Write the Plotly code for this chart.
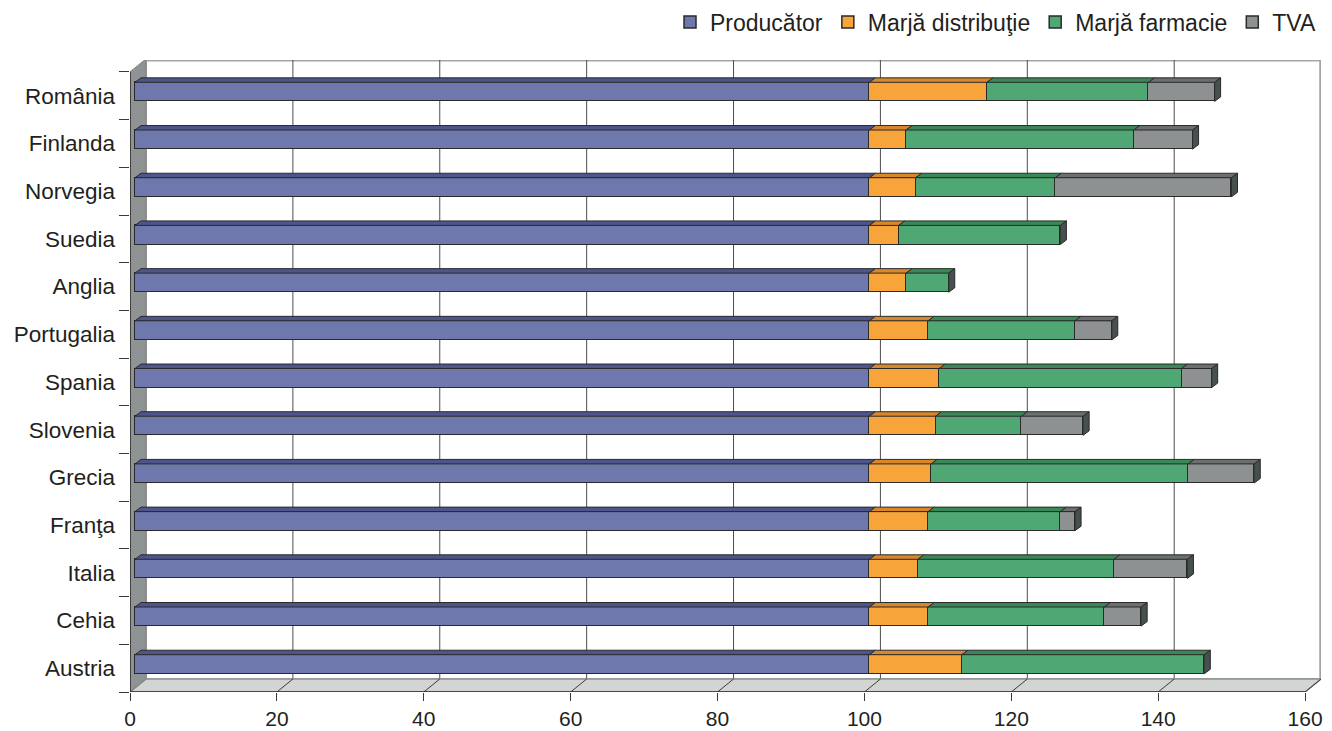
import plotly.graph_objects as go

# Countries, listed top to bottom
countries = ["România", "Finlanda", "Norvegia", "Suedia", "Anglia", "Portugalia",
             "Spania", "Slovenia", "Grecia", "Franţa", "Italia", "Cehia", "Austria"]

# Price components (producer price = 100)
producator = [100, 100, 100, 100, 100, 100, 100, 100, 100, 100, 100, 100, 100]
marja_distributie = [16, 5, 6.3, 4, 5, 8, 9.5, 9, 8.4, 8, 6.6, 8, 12.6]
marja_farmacie = [22, 31, 19, 22, 5.8, 20, 33, 11.7, 35, 18, 26.7, 24, 33]
tva = [9, 8, 24, 0, 0, 5, 4.1, 8.4, 9, 2, 10, 5, 0]

x_ticks = [0, 20, 40, 60, 80, 100, 120, 140, 160]

series = [
    ("Producător", producator, "#6f78ad", "#4d558c"),
    ("Marjă distribuţie", marja_distributie, "#f7a53b", "#d9872c"),
    ("Marjă farmacie", marja_farmacie, "#4fa873", "#3a8858"),
    ("TVA", tva, "#8e9191", "#6b6f6f"),
]

n = len(countries)
ypos = [n - 1 - i for i in range(n)]          # România at top

# 3-D box geometry in axis units
X_MAX = 162.17
Y_LO, Y_HI = -0.5, 12.75
DEPTH_X, DEPTH_Y = 2.18, 0.2726              # front plane -> back wall
BAR_SHIFT_X, BAR_SHIFT_Y = 0.68, 0.082       # front plane -> bar plane
BAR_W = 0.4
TOP_DX, TOP_DY = 0.82, 0.094                 # bar depth
SIDE_COLOR = "#46504f"
EDGE = "#2a2a2a"

fig = go.Figure()

for name, vals, face, _ in series:
    fig.add_trace(go.Bar(
        name=name, orientation="h",
        y=ypos, x=[v if v else None for v in vals],
        width=BAR_W,
        marker=dict(color=face, line=dict(color=EDGE, width=1.5)),
        xaxis="x2", yaxis="y2",
    ))

shapes = []

# back wall
shapes.append(dict(type="rect", xref="x", yref="y", layer="below",
                   x0=DEPTH_X, x1=X_MAX - 0.1, y0=Y_LO + DEPTH_Y, y1=Y_HI - 0.01,
                   fillcolor="white", line=dict(color="#a3a6a5", width=2)))
# gridlines on the back wall
for v in x_ticks[1:-1]:
    shapes.append(dict(type="line", xref="x", yref="y", layer="below",
                       x0=v + DEPTH_X, x1=v + DEPTH_X, y0=Y_LO + DEPTH_Y, y1=Y_HI,
                       line=dict(color="#4d4d4d", width=1)))
# floor
top_front = Y_LO + n
shapes.append(dict(type="path", xref="x", yref="y", layer="below",
                   path=f"M0,{Y_LO} L{x_ticks[-1]},{Y_LO} L{x_ticks[-1] + DEPTH_X},{Y_LO + DEPTH_Y} "
                        f"L{DEPTH_X},{Y_LO + DEPTH_Y} Z",
                   fillcolor="#d3d5d3", line=dict(color="#8f9392", width=1.5)))
for v in x_ticks[1:]:
    shapes.append(dict(type="line", xref="x", yref="y", layer="below",
                       x0=v, x1=v + DEPTH_X, y0=Y_LO, y1=Y_LO + DEPTH_Y,
                       line=dict(color="#3a3a3a", width=1)))
# left wall
shapes.append(dict(type="path", xref="x", yref="y", layer="below",
                   path=f"M0,{Y_LO} L0,{top_front} L{DEPTH_X},{top_front + DEPTH_Y} "
                        f"L{DEPTH_X},{Y_LO + DEPTH_Y} Z",
                   fillcolor="#8f9393", line=dict(color="#7d8181", width=1)))
# front edges
shapes.append(dict(type="line", xref="x", yref="y", layer="below",
                   x0=0, x1=x_ticks[-1], y0=Y_LO, y1=Y_LO,
                   line=dict(color="#2a2a2a", width=1.5)))
shapes.append(dict(type="line", xref="x", yref="y", layer="below",
                   x0=0, x1=0, y0=Y_LO, y1=top_front,
                   line=dict(color="#2a2a2a", width=1.5)))

# top and end faces of the bars
for i, y in enumerate(ypos):
    start = 0.0
    yt = y + BAR_W / 2
    yb = y - BAR_W / 2
    for name, vals, face, top in series:
        v = vals[i]
        if not v:
            continue
        end = start + v
        shapes.append(dict(type="path", xref="x2", yref="y2", layer="above",
                           path=f"M{start},{yt} L{end},{yt} L{end + TOP_DX},{yt + TOP_DY} "
                                f"L{start + TOP_DX},{yt + TOP_DY} Z",
                           fillcolor=top, line=dict(color=EDGE, width=1)))
        start = end
    shapes.append(dict(type="path", xref="x2", yref="y2", layer="above",
                       path=f"M{start},{yt} L{start + TOP_DX},{yt + TOP_DY} "
                            f"L{start + TOP_DX},{yb + TOP_DY} L{start},{yb} Z",
                       fillcolor=SIDE_COLOR, line=dict(color=EDGE, width=1)))

FAMILY = "Liberation Sans, Arial, sans-serif"
TXT = "#231f20"
label_font = dict(family=FAMILY, size=22.5, color=TXT)
tick_font = dict(family=FAMILY, size=21, color=TXT)
legend_font = dict(family=FAMILY, size=23, color=TXT)

fig.update_layout(
    width=1332, height=731,
    margin=dict(l=130, r=11, t=60, b=39, autoexpand=False),
    barmode="stack",
    bargap=0,
    plot_bgcolor="white", paper_bgcolor="white",
    font=label_font,
    shapes=shapes,
    showlegend=True,
    legend=dict(orientation="h", x=1.0, xanchor="right", y=1.06, yanchor="middle",
                traceorder="normal", font=legend_font, bgcolor="rgba(0,0,0,0)",
                itemwidth=30, tracegroupgap=0),
    xaxis=dict(range=[0, X_MAX], tickvals=x_ticks, ticks="outside", ticklen=8,
               tickcolor="#3a3a3a", tickwidth=1, showgrid=False, zeroline=False,
               showline=False, tickfont=tick_font, automargin=False,
               ticklabelstandoff=0),
    yaxis=dict(range=[Y_LO, Y_HI], tickvals=ypos, ticktext=countries,
               ticks="", showgrid=False, zeroline=False, showline=False,
               ticklabelstandoff=14, tickfont=label_font, automargin=False,
               minor=dict(tickvals=[Y_LO + k for k in range(n + 1)], ticks="outside",
                          ticklen=10, tickcolor="#3a3a3a", tickwidth=1, showgrid=False)),
    xaxis2=dict(overlaying="x", range=[-BAR_SHIFT_X, X_MAX - BAR_SHIFT_X], visible=False),
    yaxis2=dict(overlaying="y", range=[Y_LO - BAR_SHIFT_Y, Y_HI - BAR_SHIFT_Y], visible=False),
)

fig.write_html("out.html")
